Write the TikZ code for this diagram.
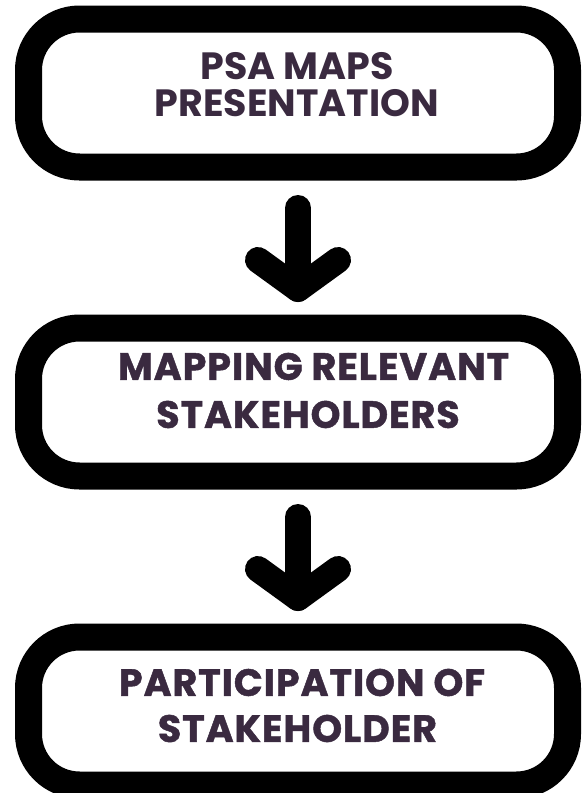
\documentclass[tikz,border=0pt]{standalone}
\usepackage{fontspec}
\setmainfont{Poppins}
\newfontfamily\heavyfont{Poppins}[BoldFeatures={FakeBold=1.2,LetterSpace=2.5}]
\definecolor{plum}{RGB}{58,42,64}
\begin{document}
\begin{tikzpicture}[x=1pt,y=-1pt,
    stage/.style={draw=black,line width=27pt,rounded corners=51pt,
      minimum width=539pt,minimum height=148pt,inner sep=0pt,outer sep=0pt},
    caption/.style={text=plum,align=center,inner sep=0pt},
    flow/.style={draw=black,line width=26pt,line cap=round,line join=round}]
  \clip (0,0) rectangle (587,793);
  \node[stage] (psa)   at (298,93)  {};
  \node[stage] (map)   at (298,402) {};
  \node[stage] (part)  at (298,711) {};
  \node[caption,font=\bfseries\fontsize{38}{37}\selectfont] (psaText) at (297,85)
    {PSA MAPS\\PRESENTATION};
  \node[caption,font=\heavyfont\bfseries\fontsize{38}{48}\selectfont] (mapText) at (308,390.5)
    {\hspace*{11pt}MAPPING RELEVANT\\STAKEHOLDERS};
  \node[caption,font=\heavyfont\bfseries\fontsize{38}{46}\selectfont] (partText) at (297.5,705.5)
    {\hspace*{9pt}PARTICIPATION OF\\STAKEHOLDER};
  % arrows between the stages
  \draw[flow] ([yshift=-41pt]psa.south) -- ([yshift=39pt]map.north);
  \draw[flow] ([yshift=39pt]map.north) ++(-40pt,29pt) -- ([yshift=39pt]map.north) -- ++(40pt,29pt);
  \draw[flow] ([yshift=-41pt]map.south) -- ([yshift=39pt]part.north);
  \draw[flow] ([yshift=39pt]part.north) ++(-40pt,29pt) -- ([yshift=39pt]part.north) -- ++(40pt,29pt);
\end{tikzpicture}
\end{document}
